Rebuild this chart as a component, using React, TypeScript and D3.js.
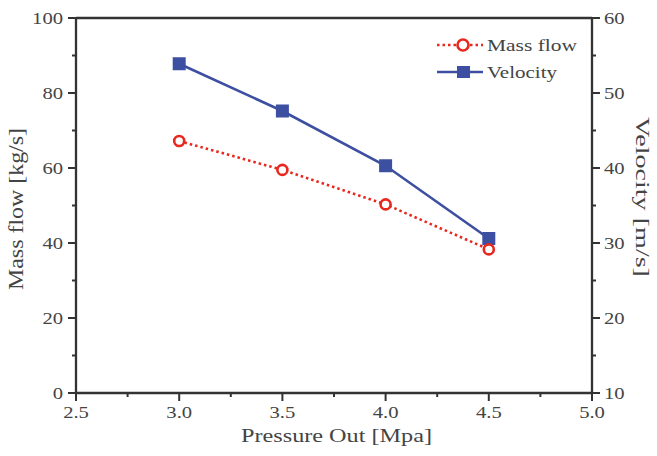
import React from "react";
import * as d3 from "d3";

const pressure = [3.0, 3.5, 4.0, 4.5];
const massFlow = [67.2, 59.5, 50.3, 38.3];
const velocity = [53.9, 47.6, 40.3, 30.6];
const xTicks = [2.5, 3.0, 3.5, 4.0, 4.5, 5.0];
const yLeftTicks = [0, 20, 40, 60, 80, 100];
const yRightTicks = [10, 20, 30, 40, 50, 60];

const W = 657, H = 456;
const L = 76, R = 592, T = 18, B = 393;
const FONT = "'Liberation Serif', 'Times New Roman', serif";
const RED = "#e8281e";
const BLUE = "#3d4fa0";
const AX = "#333";
const TXT = "#444";
const SX = 1.25;

function Label({ x, y, anchor, children, size = 16.5 }: { x: number; y: number; anchor: string; children: any; size?: number }) {
  return (
    <g transform={`translate(${x},${y}) scale(${SX},1)`}>
      <text x={0} y={0} textAnchor={anchor as any} fontFamily={FONT} fontSize={size} fill={TXT}>{children}</text>
    </g>
  );
}

export default function App() {
  const x = d3.scaleLinear().domain([2.5, 5.0]).range([L, R]);
  const yl = d3.scaleLinear().domain([0, 100]).range([B, T]);
  const yr = d3.scaleLinear().domain([10, 60]).range([B, T]);
  const massLine = d3.line<number>().x((_, i) => x(pressure[i])).y((d) => yl(d))(massFlow) || "";
  const velLine = d3.line<number>().x((_, i) => x(pressure[i])).y((d) => yr(d))(velocity) || "";
  const xMinor = d3.range(2.75, 5.0, 0.5);
  const ylMinor = d3.range(10, 100, 20);
  const yrMinor = d3.range(15, 60, 10);
  return (
    <svg width={W} height={H} style={{ position: "absolute", left: 0, top: 0, background: "#fff" }}>
      <rect x={0} y={0} width={W} height={H} fill="#fff" />
      {/* data */}
      <path d={massLine} fill="none" stroke={RED} strokeWidth={2.6} strokeDasharray="2.5,3" />
      <path d={velLine} fill="none" stroke={BLUE} strokeWidth={2.6} />
      {velocity.map((v, i) => (
        <rect key={"v" + i} x={x(pressure[i]) - 6.5} y={yr(v) - 6.5} width={13} height={13} fill={BLUE} />
      ))}
      {massFlow.map((v, i) => (
        <circle key={"m" + i} cx={x(pressure[i])} cy={yl(v)} r={5} fill="#fff" stroke={RED} strokeWidth={2.6} />
      ))}
      {/* frame */}
      <line x1={L} x2={R} y1={T} y2={T} stroke={AX} strokeWidth={2.3} />
      <line x1={L} x2={R} y1={B} y2={B} stroke={AX} strokeWidth={2.3} />
      <line x1={L} x2={L} y1={T} y2={B} stroke={AX} strokeWidth={2.3} />
      <line x1={R} x2={R} y1={T} y2={B} stroke={AX} strokeWidth={2.3} />
      {/* x ticks */}
      {xTicks.map((t) => (
        <g key={"xt" + t}>
          <line x1={x(t)} x2={x(t)} y1={B} y2={B + 8} stroke={AX} strokeWidth={2} />
          <Label x={x(t)} y={B + 25} anchor="middle">{t.toFixed(1)}</Label>
        </g>
      ))}
      {xMinor.map((t) => (
        <line key={"xm" + t} x1={x(t)} x2={x(t)} y1={B} y2={B + 4} stroke={AX} strokeWidth={2} />
      ))}
      {/* left ticks */}
      {yLeftTicks.map((t) => (
        <g key={"yl" + t}>
          <line x1={L - 8} x2={L} y1={yl(t)} y2={yl(t)} stroke={AX} strokeWidth={2} />
          <Label x={L - 13} y={yl(t) + 6} anchor="end">{t}</Label>
        </g>
      ))}
      {ylMinor.map((t) => (
        <line key={"ylm" + t} x1={L - 4} x2={L} y1={yl(t)} y2={yl(t)} stroke={AX} strokeWidth={2} />
      ))}
      {/* right ticks */}
      {yRightTicks.map((t) => (
        <g key={"yr" + t}>
          <line x1={R} x2={R + 8} y1={yr(t)} y2={yr(t)} stroke={AX} strokeWidth={2} />
          <Label x={R + 12} y={yr(t) + 6} anchor="start">{t}</Label>
        </g>
      ))}
      {yrMinor.map((t) => (
        <line key={"yrm" + t} x1={R} x2={R + 4} y1={yr(t)} y2={yr(t)} stroke={AX} strokeWidth={2} />
      ))}
      {/* titles */}
      <text x={241} y={442} textLength={191} lengthAdjust="spacingAndGlyphs" fontFamily={FONT} fontSize={19} fill={TXT}>Pressure Out [Mpa]</text>
      <text transform={`translate(23,${209 + 81}) rotate(-90)`} x={0} y={0} textLength={162} lengthAdjust="spacingAndGlyphs" fontFamily={FONT} fontSize={21} fill={TXT}>Mass flow [kg/s]</text>
      <text transform={`translate(636,${197 - 80}) rotate(90)`} x={0} y={0} textLength={160} lengthAdjust="spacingAndGlyphs" fontFamily={FONT} fontSize={19} fill={TXT}>Velocity [m/s]</text>
      {/* legend */}
      <line x1={437} x2={483} y1={45} y2={45} stroke={RED} strokeWidth={2.6} strokeDasharray="2.5,3" />
      <circle cx={463} cy={45} r={5.5} fill="#fff" stroke={RED} strokeWidth={2.6} />
      <text x={487} y={51} textLength={90} lengthAdjust="spacingAndGlyphs" fontFamily={FONT} fontSize={17} fill={TXT}>Mass flow</text>
      <line x1={437} x2={483} y1={72} y2={72} stroke={BLUE} strokeWidth={2.6} />
      <rect x={457} y={66} width={13} height={12} fill={BLUE} />
      <text x={487} y={78} textLength={70} lengthAdjust="spacingAndGlyphs" fontFamily={FONT} fontSize={17} fill={TXT}>Velocity</text>
    </svg>
  );
}
